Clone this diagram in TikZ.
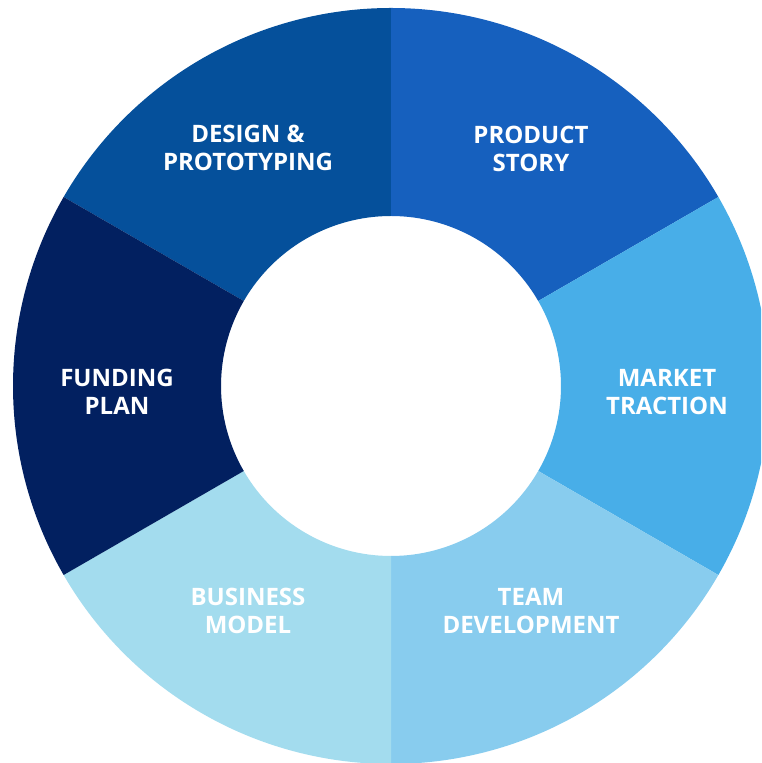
\documentclass[tikz,border=0pt]{standalone}
\usepackage{fontspec}
\setmainfont{Open Sans}
\usetikzlibrary{calc}
\definecolor{cDesign}{HTML}{05509B}
\definecolor{cProduct}{HTML}{1660BE}
\definecolor{cMarket}{HTML}{48AEE8}
\definecolor{cTeam}{HTML}{88CCEE}
\definecolor{cBusiness}{HTML}{A3DCEE}
\definecolor{cFunding}{HTML}{022060}
\tikzset{
  lbl/.style={text=white, align=center, font=\fontsize{24}{28.5}\selectfont\bfseries, inner sep=0pt},
}
\newcommand{\donutseg}[3]{%
  \fill[#3] ($(C)+(#1:378)$) arc[start angle=#1, end angle=#2, radius=378]
    -- ($(C)+(#2:170)$) arc[start angle=#2, end angle=#1, radius=170] -- cycle;}
\begin{document}
\begin{tikzpicture}[x=1pt,y=1pt]
\useasboundingbox (0,0) rectangle (761,763);
\clip (0,0) rectangle (761,763);
\coordinate (C) at (391,377);
\donutseg{90}{150}{cDesign}
\donutseg{30}{90}{cProduct}
\donutseg{-30}{30}{cMarket}
\donutseg{-90}{-30}{cTeam}
\donutseg{210}{270}{cBusiness}
\donutseg{150}{210}{cFunding}
\node[lbl] (design) at (248,615) {DESIGN \&\\PROTOTYPING};
\node[lbl] (product) at (531,614) {PRODUCT\\STORY};
\node[lbl] (market) at (667,371) {MARKET\\TRACTION};
\node[lbl] (team) at (531,152) {TEAM\\DEVELOPMENT};
\node[lbl] (business) at (248,152) {BUSINESS\\MODEL};
\node[lbl] (funding) at (117,371) {FUNDING\\PLAN};
\end{tikzpicture}
\end{document}
